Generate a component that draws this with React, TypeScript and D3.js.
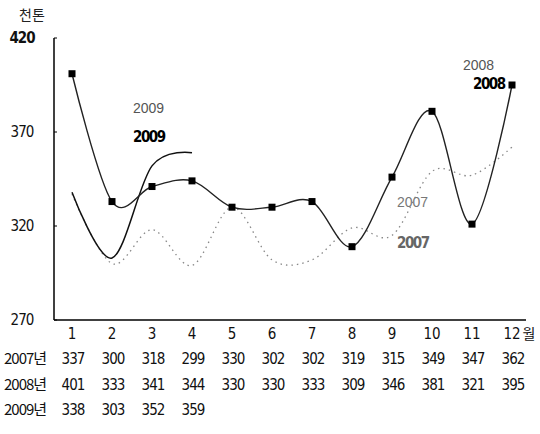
import React from 'react';
import * as d3 from 'd3';

const months = [1, 2, 3, 4, 5, 6, 7, 8, 9, 10, 11, 12];
const yTicks = [270, 320, 370, 420];
const values2007 = [337, 300, 318, 299, 330, 302, 302, 319, 315, 349, 347, 362];
const values2008 = [401, 333, 341, 344, 330, 330, 333, 309, 346, 381, 321, 395];
const values2009 = [338, 303, 352, 359];
const rowLabels = ['2007년', '2008년', '2009년'];

const W = 540;
const H = 434;
const FONT = '"Liberation Sans Narrow", "DejaVu Sans Condensed", "Liberation Sans", sans-serif';

const App: React.FC = () => {
  const x = d3.scaleLinear().domain([1, 12]).range([72, 512]);
  const y = d3.scaleLinear().domain([270, 420]).range([320, 38]);

  // smoothed lines like the spreadsheet original
  const line = d3.line<number>()
    .x((_, i) => x(months[i]))
    .y(d => y(d))
    .curve(d3.curveCardinal.tension(0));

  const rows = [values2007, values2008, values2009];
  const rowY = [359, 385, 410];

  return (
    <svg width={W} height={H} style={{ position: 'absolute', left: 0, top: 0, background: '#fff' }}
      fontFamily={FONT}>
      {/* unit */}
      <text x={32} y={20} fontSize={14} textAnchor="middle" fill="#222"
        fontFamily='"Noto Sans CJK KR", sans-serif'>천톤</text>

      {/* axes */}
      <line x1={54} x2={54} y1={38} y2={320} stroke="#000" strokeWidth={1.5} />
      <line x1={54} x2={526} y1={320} y2={320} stroke="#000" strokeWidth={1.5} />
      {yTicks.map(t => (
        <g key={t}>
          <line x1={54} x2={57} y1={y(t)} y2={y(t)} stroke="#000" />
          <text x={22} y={y(t) + 5} fontSize={15} textAnchor="middle" fill="#111"
            fontWeight={t === 420 ? 'bold' : 'normal'} letterSpacing={-1}>{t}</text>
        </g>
      ))}
      {months.map(m => (
        <text key={m} x={x(m)} y={339} fontSize={15} textAnchor="middle" fill="#111">{m}</text>
      ))}
      <text x={529} y={339} fontSize={14} textAnchor="middle" fill="#111"
        fontFamily='"Noto Sans CJK KR", sans-serif'>월</text>

      {/* 2007 dotted */}
      <path d={line(values2007) || ''} fill="none" stroke="#888" strokeWidth={1.3}
        strokeDasharray="1.5 4" />
      {/* 2009 solid */}
      <path d={line(values2009) || ''} fill="none" stroke="#111" strokeWidth={1.5} />
      {/* 2008 solid with markers */}
      <path d={line(values2008) || ''} fill="none" stroke="#222" strokeWidth={1.4} />
      {values2008.map((v, i) => (
        <rect key={i} x={x(months[i]) - 3.5} y={y(v) - 3.5} width={7} height={7} fill="#000" />
      ))}

      {/* series labels */}
      <text x={133} y={113} fontSize={14} fill="#555" fontFamily='"Liberation Sans", sans-serif'>2009</text>
      <text x={133} y={142} fontSize={15} fill="#000" fontWeight={900} letterSpacing={-1.5}>2009</text>
      <text x={397} y={207} fontSize={14} fill="#777" fontFamily='"Liberation Sans", sans-serif'>2007</text>
      <text x={397} y={248} fontSize={15} fill="#666" fontWeight={900} letterSpacing={-1.5}>2007</text>
      <text x={463} y={70} fontSize={14} fill="#555" fontFamily='"Liberation Sans", sans-serif'>2008</text>
      <text x={473} y={89} fontSize={15} fill="#000" fontWeight={900} letterSpacing={-1.5}>2008</text>

      {/* data table */}
      {rows.map((vals, r) => (
        <g key={r}>
          <text x={4} y={rowY[r] + 5} fontSize={15} fill="#111" letterSpacing={-1}
            fontFamily={'"Liberation Sans Narrow", "Noto Sans CJK KR", sans-serif'}>{rowLabels[r]}</text>
          {vals.map((v, i) => (
            <text key={i} x={x(months[i]) + 1} y={rowY[r] + 5} fontSize={15} textAnchor="middle"
              fill="#111" letterSpacing={-1}>{v}</text>
          ))}
        </g>
      ))}
    </svg>
  );
};

export default App;
